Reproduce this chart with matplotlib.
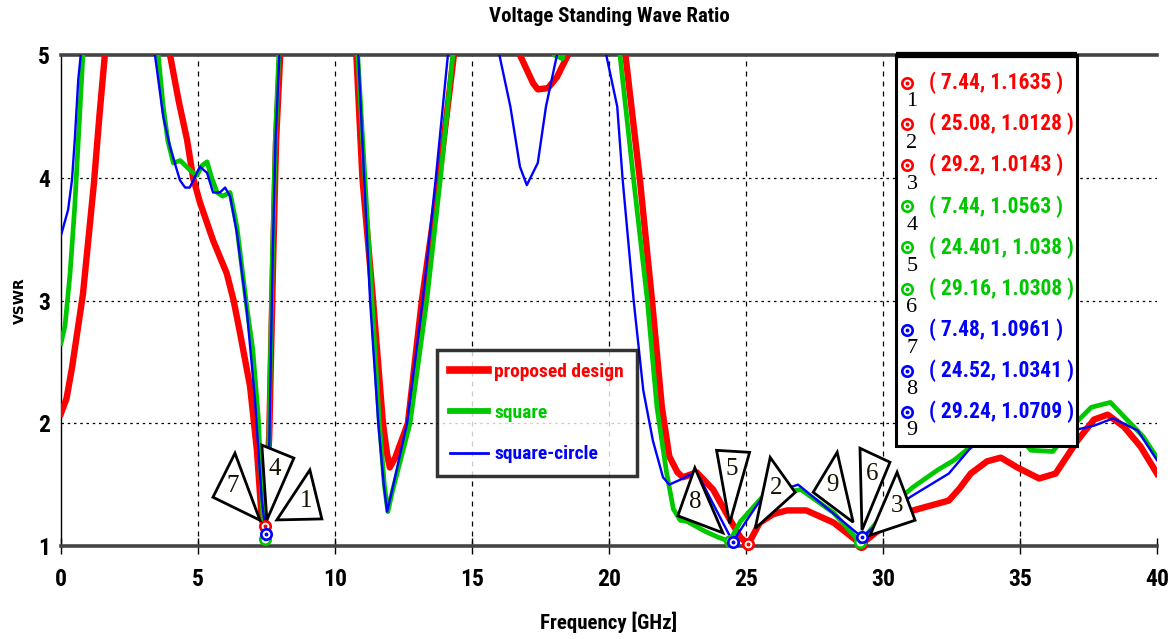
import matplotlib
matplotlib.use("Agg")
import matplotlib.pyplot as plt
import matplotlib.transforms as mtransforms
import matplotlib.font_manager as fm
from matplotlib.patches import Polygon, Rectangle

# ---------------- data ----------------
series_names = ["proposed design", "square", "square-circle"]
series_colors = ["#ff0000", "#00c800", "#0000ff"]

red_freq = [0.0, 0.2, 0.4, 0.6, 0.8, 1.0, 1.2, 1.4, 1.6, 1.8, 2.2, 3.4, 3.98, 4.3, 4.6, 4.82,
            5.07, 5.55, 6.05, 6.3, 6.53, 6.9, 7.15, 7.33, 7.44, 7.6, 7.75, 7.85, 8.0, 8.3,
            10.4, 10.78, 11.0, 11.39, 11.75, 11.9, 12.0, 12.2, 12.66, 13.17, 13.8, 14.34, 14.6,
            16.5, 16.75, 17.0, 17.23, 17.4, 17.77, 18.1, 18.5, 18.8, 20.3, 20.6, 21.13, 21.57,
            21.93, 22.2, 22.5, 22.7, 23.2, 23.8, 24.4, 24.8, 25.08, 25.5, 26.0, 26.5, 27.2,
            28.2, 29.2, 29.8, 30.6, 31.1, 32.4, 32.8, 33.2, 33.8, 34.3, 34.9, 35.7, 36.3, 37.1,
            37.7, 38.2, 38.8, 39.4, 40.0]
red_vswr = [2.08, 2.2, 2.45, 2.75, 3.05, 3.5, 3.95, 4.5, 5.0, 5.6, 7.0, 7.0, 5.0, 4.62, 4.31, 4.0,
            3.8, 3.49, 3.22, 3.0, 2.74, 2.3, 1.78, 1.21, 1.1635, 1.9, 3.4, 4.3, 5.0, 7.0,
            7.0, 5.0, 4.0, 3.0, 2.0, 1.75, 1.64, 1.72, 2.0, 3.0, 4.0, 5.0, 6.0,
            5.4, 5.0, 4.88, 4.77, 4.72, 4.73, 4.82, 5.0, 5.3, 5.6, 5.0, 3.98, 3.0,
            2.13, 1.73, 1.6, 1.56, 1.6, 1.46, 1.22, 1.07, 1.0128, 1.19, 1.26, 1.29, 1.29,
            1.19, 1.0143, 1.12, 1.24, 1.29, 1.37, 1.47, 1.59, 1.69, 1.72, 1.64, 1.55, 1.59, 1.86,
            2.03, 2.07, 1.97, 1.81, 1.59]

green_freq = [0.0, 0.15, 0.33, 0.5, 0.63, 0.8, 1.0, 1.4, 3.0, 3.55, 3.73, 3.9, 4.1, 4.35, 4.77,
              4.96, 5.15, 5.33, 5.5, 5.7, 5.9, 6.17, 6.42, 6.78, 7.0, 7.2, 7.37, 7.44, 7.58,
              7.72, 7.82, 7.95, 8.2, 10.5, 10.83, 11.35, 11.62, 11.8, 11.93, 12.1, 12.74,
              13.35, 13.85, 14.3, 14.6, 17.6, 18.0, 18.3, 18.6, 20.0, 20.4, 20.9, 21.4, 21.75,
              22.1, 22.35, 22.6, 22.85, 23.5, 24.0, 24.401, 24.8, 25.6, 27.0, 28.2, 29.16, 29.8,
              30.4, 31.1, 32.0, 32.6, 33.2, 33.8, 34.4, 35.0, 35.4, 36.2, 36.8, 37.6, 38.3,
              38.9, 39.5, 40.0]
green_vswr = [2.65, 2.8, 3.22, 3.76, 4.3, 5.0, 6.0, 7.0, 7.0, 5.0, 4.58, 4.3, 4.12, 4.14, 4.05,
              4.02, 4.1, 4.13, 4.0, 3.88, 3.85, 3.88, 3.6, 2.95, 2.6, 2.05, 1.24, 1.0563, 1.8,
              3.4, 4.3, 5.0, 7.0, 7.0, 5.0, 3.0, 2.0, 1.5, 1.28, 1.45, 2.0,
              3.0, 4.0, 5.0, 6.0, 5.3, 5.0, 4.97, 5.3, 5.6, 5.0, 3.98, 3.0, 2.13,
              1.6, 1.3, 1.21, 1.2, 1.12, 1.07, 1.038, 1.2, 1.4, 1.46, 1.27, 1.0308, 1.2,
              1.35, 1.48, 1.62, 1.7, 1.81, 1.92, 1.98, 1.88, 1.78, 1.77, 1.95, 2.13, 2.17,
              2.03, 1.89, 1.72]

blue_freq = [0.0, 0.26, 0.4, 0.5, 0.63, 0.72, 0.9, 1.3, 2.9, 3.43, 3.73, 3.98, 4.34, 4.53, 4.7,
             5.07, 5.33, 5.55, 5.8, 5.99, 6.17, 6.42, 6.78, 7.08, 7.33, 7.48, 7.6, 7.73, 7.83,
             7.97, 8.2, 10.5, 10.85, 11.28, 11.58, 11.78, 11.9, 12.05, 12.63, 13.2, 13.68,
             14.12, 14.4, 15.6, 16.0, 16.4, 16.75, 17.0, 17.4, 17.7, 18.1, 18.4, 19.6, 19.9,
             20.3, 20.5, 20.9, 21.25, 21.6, 21.97, 22.2, 22.6, 22.95, 23.3, 23.9, 24.52, 25.0,
             25.6, 26.9, 28.0, 29.24, 30.0, 31.0, 32.4, 33.2, 34.0, 35.0, 36.0, 36.9, 37.7,
             38.4, 39.3, 40.0]
blue_vswr = [3.53, 3.74, 3.98, 4.3, 4.8, 5.0, 6.0, 7.0, 7.0, 5.0, 4.5, 4.25, 3.98, 3.92, 3.92,
             4.09, 4.04, 3.88, 3.88, 3.92, 3.85, 3.55, 2.92, 2.19, 1.37, 1.0961, 1.8, 3.4, 4.3,
             5.0, 7.0, 7.0, 5.0, 3.0, 2.0, 1.5, 1.28, 1.42, 2.0, 3.0, 4.0,
             5.0, 6.0, 6.0, 5.0, 4.58, 4.09, 3.94, 4.12, 4.58, 5.0, 6.0, 6.0, 5.0,
             4.58, 3.98, 3.0, 2.27, 1.86, 1.56, 1.5, 1.54, 1.58, 1.56, 1.3, 1.0341, 1.2,
             1.4, 1.5, 1.3, 1.0709, 1.22, 1.4, 1.59, 1.8, 1.88, 1.9, 1.9, 1.94, 1.98,
             2.04, 1.94, 1.7]

# markers (1..9): frequency, VSWR, series index
marker_freq = [7.44, 25.08, 29.2, 7.44, 24.401, 29.16, 7.48, 24.52, 29.24]
marker_vswr = [1.1635, 1.0128, 1.0143, 1.0563, 1.038, 1.0308, 1.0961, 1.0341, 1.0709]
marker_series = [0, 0, 0, 1, 1, 1, 2, 2, 2]

x_ticks = [0, 5, 10, 15, 20, 25, 30, 35, 40]
y_ticks = [1, 2, 3, 4, 5]

# ---------------- fonts ----------------
def _is_bold(w):
    if isinstance(w, (int, float)):
        return w >= 600
    return str(w).lower() in ("bold", "demibold", "semibold", "heavy", "extra bold", "black")


def _is_condensed(s):
    if isinstance(s, (int, float)):
        return s < 500
    return "condensed" in str(s).lower() or "narrow" in str(s).lower()


narrow_path = None
prefs = ["Liberation Sans Narrow", "Roboto Condensed", "Open Sans Condensed", "DejaVu Sans",
         "Noto Sans", "Open Sans", "Roboto"]
entries = fm.fontManager.ttflist
for pref in prefs:
    for e in entries:
        if e.name == pref and _is_bold(e.weight) and e.style == "normal" and (
                _is_condensed(e.stretch) or "narrow" in e.name.lower() or
                "condensed" in e.name.lower() or "condensed" in e.fname.lower()):
            narrow_path = e.fname
            break
    if narrow_path:
        break

SERIF_FAMILY = "Liberation Serif" if any(e.name == "Liberation Serif" for e in entries) else "DejaVu Serif"
SCALE = 1.0 if narrow_path else 0.8


def fp(size):
    if narrow_path:
        return fm.FontProperties(fname=narrow_path, size=size)
    return fm.FontProperties(family="DejaVu Sans", weight="bold", size=size * SCALE)


def fserif(size):
    return fm.FontProperties(family=SERIF_FAMILY, size=size)


# ---------------- figure ----------------
fig = plt.figure(figsize=(11.72, 6.39), dpi=100)
ax = fig.add_axes([61 / 1172, 1 - 546 / 639, 1096 / 1172, 491 / 639])
ax.set_xlim(0, 40)
ax.set_ylim(1, 5)

# grid
for xv in x_ticks[1:-1]:
    ax.axvline(xv, color="black", lw=0.9, ls=(0, (4, 4)), zorder=1)
for yv in y_ticks[1:-1]:
    ax.axhline(yv, color="black", lw=0.9, ls=(0, (2, 3)), zorder=1)

# curves
widths = [4.6, 3.4, 1.7]
for fr, vs, name, col, lw in zip([red_freq, green_freq, blue_freq],
                                  [red_vswr, green_vswr, blue_vswr],
                                  series_names, series_colors, widths):
    ax.plot(fr, vs, color=col, lw=lw, label=name, zorder=3, solid_joinstyle="round")

# markers on the curves
for f, v, s in zip(marker_freq, marker_vswr, marker_series):
    c = series_colors[s]
    ax.plot([f], [v], marker="o", ms=7.5, mfc="white", mec=c, mew=1.9, ls="none",
            zorder=5, clip_on=False)
    ax.plot([f], [v], marker="o", ms=1.8, mfc=c, mec=c, ls="none", zorder=5, clip_on=False)

# callout triangles (pixel offsets: apex, base1, base2)
callouts = [
    [(12, 6), (45, 56), (57, 7)],
    [(7, 16), (22, 87), (47, 52)],
    [(9, 9), (36, 72), (54, 24)],
    [(2, 19), (-3, 94), (29, 81)],
    [(0, 18), (-13, 91), (20, 89)],
    [(2, 12), (0, 94), (30, 80)],
    [(-6, 14), (-31, 81), (-53, 37)],
    [(-10, 9), (-38, 74), (-55, 26)],
    [(-9, 15), (-25, 85), (-49, 45)],
]
for i, (f, v) in enumerate(zip(marker_freq, marker_vswr)):
    tr = (mtransforms.Affine2D().scale(1 / 100.0) + fig.dpi_scale_trans +
          mtransforms.ScaledTranslation(f, v, ax.transData))
    verts = callouts[i]
    ax.add_patch(Polygon(verts, closed=True, facecolor="white", edgecolor="black",
                         lw=2.0, transform=tr, zorder=7, clip_on=False))
    a, b, c = verts
    tx = 0.25 * a[0] + 0.375 * b[0] + 0.375 * c[0]
    ty = 0.25 * a[1] + 0.375 * b[1] + 0.375 * c[1]
    ax.text(tx, ty, str(i + 1), transform=tr, ha="center", va="center",
            fontproperties=fserif(18), color="#1a1000", zorder=8)

# spines & ticks
ax.spines["right"].set_visible(False)
for side in ["top", "bottom"]:
    ax.spines[side].set_color("#444444")
    ax.spines[side].set_linewidth(2.6)
ax.spines["left"].set_color("black")
ax.spines["left"].set_linewidth(1.0)

ax.set_xticks(x_ticks)
ax.set_yticks(y_ticks)
ax.set_xticklabels([str(t) for t in x_ticks])
ax.set_yticklabels([str(t) for t in y_ticks])
ax.tick_params(axis="x", direction="inout", length=11, width=1, pad=10, colors="black")
ax.tick_params(axis="y", length=0, pad=8)
for lbl in ax.get_xticklabels() + ax.get_yticklabels():
    lbl.set_fontproperties(fp(17))

ax.set_title("Voltage Standing Wave Ratio", fontproperties=fp(15), pad=24)
ax.set_xlabel("Frequency [GHz]", fontproperties=fp(15), labelpad=15)
ax.set_ylabel("VSWR", fontproperties=fm.FontProperties(family="DejaVu Sans", weight="bold", size=10),
              labelpad=8)

# series legend
leg = ax.legend(loc="upper left", bbox_to_anchor=(0.343, 0.399), borderaxespad=0,
                prop=fp(14), frameon=True, fancybox=False, edgecolor="black",
                handlelength=2.0, handletextpad=0.3, labelspacing=1.2, borderpad=0.65)
leg.get_frame().set_linewidth(2.5)
for txt, col in zip(leg.get_texts(), series_colors):
    txt.set_color(col)
for h, lw in zip(leg.get_lines(), [5.5, 4.2, 2.0]):
    h.set_linewidth(lw)
leg.set_zorder(9)

# marker table box
bx0, bx1 = (896 - 61) / 1096, (1077 - 61) / 1096
by0, by1 = (546 - 446) / 491, 1.0
ax.add_patch(Rectangle((bx0, by0), bx1 - bx0, by1 - by0, transform=ax.transAxes,
                       facecolor="white", edgecolor="black", lw=2.2, zorder=10, clip_on=False))
ax.plot([bx0, bx1], [by1, by1], transform=ax.transAxes, color="black", lw=4.5,
        zorder=11, clip_on=False, solid_capstyle="butt")
row0 = (546 - 83) / 491
step = 41.1 / 491
mx = (907 - 61) / 1096
nx = (912 - 61) / 1096
tx0 = (929 - 61) / 1096
for i, (f, v, s) in enumerate(zip(marker_freq, marker_vswr, marker_series)):
    y = row0 - i * step
    c = series_colors[s]
    ax.plot([mx], [y], marker="o", ms=7.5, mfc="white", mec=c, mew=1.9, ls="none",
            transform=ax.transAxes, zorder=12, clip_on=False)
    ax.plot([mx], [y], marker="o", ms=1.8, mfc=c, mec=c, ls="none",
            transform=ax.transAxes, zorder=12, clip_on=False)
    ax.text(nx, y - 19 / 491, str(i + 1), transform=ax.transAxes, ha="center", va="center",
            fontproperties=fserif(16), color="black", zorder=12)
    ax.text(tx0, y, f"( {f:g}, {v:g} )", transform=ax.transAxes, ha="left", va="center",
            fontproperties=fp(15.5), color=c, zorder=12)

fig.savefig("out.png", dpi=100)
